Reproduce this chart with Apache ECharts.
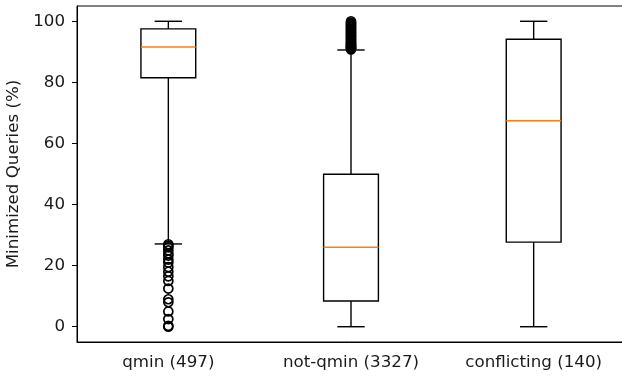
<!DOCTYPE html>
<html>
<head>
<meta charset="utf-8">
<script src="https://cdn.jsdelivr.net/npm/echarts@6/dist/echarts.min.js"></script>
<style>
  html, body { margin: 0; padding: 0; background: #fff; }
  #chart { width: 622px; height: 377px; }
</style>
</head>
<body>
<div id="chart"></div>
<script>
// groups on the x axis
let categories = ['qmin (497)', 'not-qmin (3327)', 'conflicting (140)'];
// [low whisker, Q1, median, Q3, high whisker] per group
let boxStats = [
  [27.1, 81.5, 91.6, 97.5, 100],
  [0, 8.4, 26.0, 49.9, 90.6],
  [0, 27.7, 67.4, 94.1, 100]
];
// fliers
let qminOutliers = [27, 26.5, 26, 25, 24, 23.3, 22, 21, 19.5, 18, 16.5, 15, 12.5, 9, 8, 5, 2.5, 0.3, 0];
let notQminOutliers = [90.8, 91, 91.2, 91.4, 91.6, 91.8, 92, 92.2, 92.5, 92.8, 93, 93.3, 93.6, 94, 94.3, 94.6, 95, 95.3, 95.6, 96,
  96.3, 96.6, 97, 97.3, 97.6, 98, 98.3, 98.6, 99, 99.3, 99.6, 100];
let conflictingOutliers = [];
let yTicks = [0, 20, 40, 60, 80, 100];

let chart = echarts.init(document.getElementById('chart'));

let boxData = boxStats.map((s, i) => [i].concat(s));
let outlierData = [];
qminOutliers.forEach(v => outlierData.push([0, v]));
notQminOutliers.forEach(v => outlierData.push([1, v]));
conflictingOutliers.forEach(v => outlierData.push([2, v]));

function renderBox(params, api) {
  let x = api.value(0);
  let band = api.size([1, 0])[0];
  let half = band * 0.15;
  let cap = band * 0.075;
  let lo = api.coord([x, api.value(1)]);
  let q1 = api.coord([x, api.value(2)]);
  let med = api.coord([x, api.value(3)]);
  let q3 = api.coord([x, api.value(4)]);
  let hi = api.coord([x, api.value(5)]);
  let cx = lo[0];
  let line = { stroke: '#000', lineWidth: 1.4, fill: null };
  return {
    type: 'group',
    children: [
      { type: 'line', shape: { x1: cx, y1: q1[1], x2: cx, y2: lo[1] }, style: line },
      { type: 'line', shape: { x1: cx, y1: q3[1], x2: cx, y2: hi[1] }, style: line },
      { type: 'line', shape: { x1: cx - cap, y1: lo[1], x2: cx + cap, y2: lo[1] }, style: line },
      { type: 'line', shape: { x1: cx - cap, y1: hi[1], x2: cx + cap, y2: hi[1] }, style: line },
      { type: 'rect', shape: { x: cx - half, y: q3[1], width: half * 2, height: q1[1] - q3[1] }, style: line },
      { type: 'line', shape: { x1: cx - half, y1: med[1], x2: cx + half, y2: med[1] }, style: { stroke: '#ff7f0e', lineWidth: 1.5 } }
    ]
  };
}

let option = {
  animation: false,
  grid: {
    left: 77,
    right: -3,
    top: 6,
    bottom: 35,
    outerBoundsMode: 'none',
    containLabel: false,
    show: true,
    borderColor: '#000',
    borderWidth: 1
  },
  xAxis: {
    type: 'category',
    data: categories,
    boundaryGap: true,
    axisLine: { onZero: false, lineStyle: { color: '#000', width: 1 } },
    axisTick: { alignWithLabel: true, length: 5, lineStyle: { color: '#000' } },
    axisLabel: { color: '#1a1a1a', fontFamily: 'DejaVu Sans', fontSize: 16.7, margin: 12 }
  },
  yAxis: {
    type: 'value',
    min: -5,
    max: 105,
    name: 'Minimized Queries (%)',
    nameLocation: 'middle',
    nameGap: 54,
    nameTextStyle: { color: '#1a1a1a', fontFamily: 'DejaVu Sans', fontSize: 16.7 },
    splitLine: { show: false },
    axisLine: { show: true, lineStyle: { color: '#000', width: 1 } },
    axisTick: { show: true, length: 5, customValues: yTicks, lineStyle: { color: '#000' } },
    axisLabel: { color: '#1a1a1a', fontFamily: 'DejaVu Sans', fontSize: 16.7, margin: 12, customValues: yTicks }
  },
  series: [
    {
      type: 'custom',
      renderItem: renderBox,
      data: boxData,
      encode: { x: 0, y: [1, 2, 3, 4, 5] },
      z: 2
    },
    {
      type: 'scatter',
      data: outlierData,
      symbol: 'circle',
      symbolSize: 9,
      itemStyle: { color: 'rgba(0,0,0,0)', borderColor: '#000', borderWidth: 1.7, opacity: 1 },
      z: 3
    }
  ]
};
chart.setOption(option);
</script>
</body>
</html>
